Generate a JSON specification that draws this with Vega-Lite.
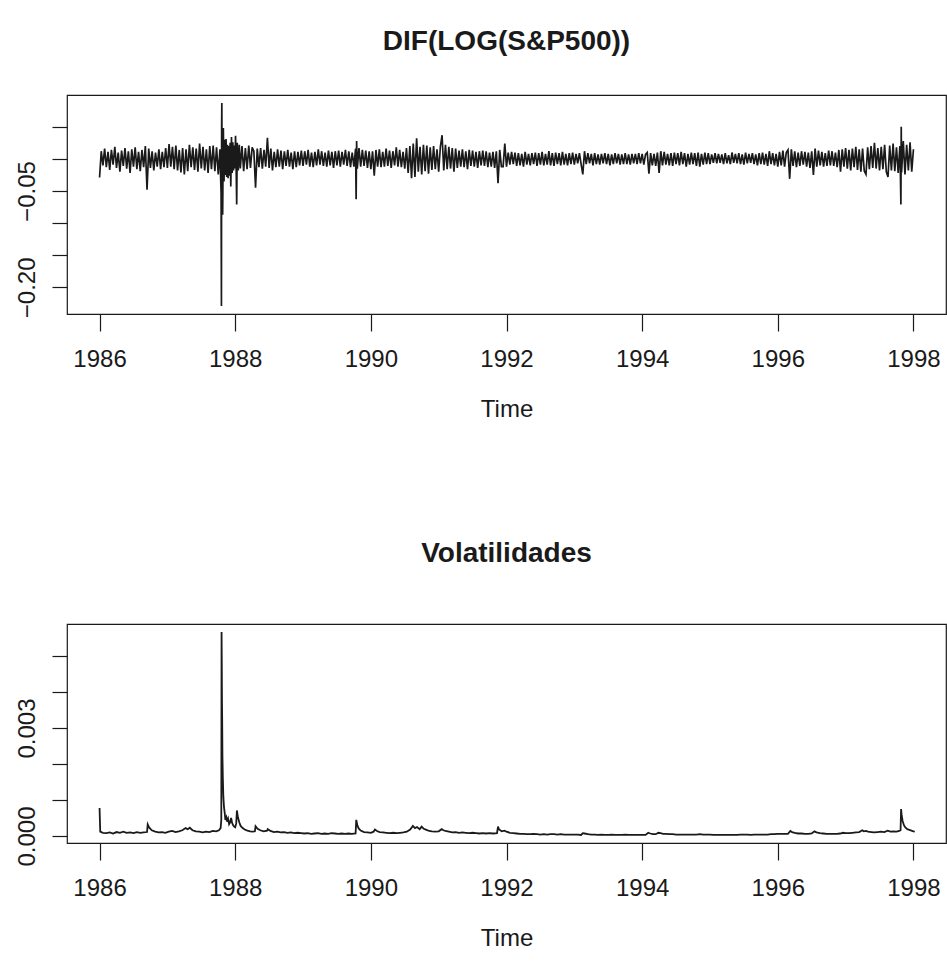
{
"$schema": "https://vega.github.io/schema/vega-lite/v6.json",
"autosize": {"type": "pad"},
"padding": {"left": 14, "top": 27, "right": 0, "bottom": 4},
"background": "white",
"config": {
 "font": "Liberation Sans",
 "view": {"stroke": "#1a1a1a", "strokeWidth": 1.2},
 "axis": {"grid": false, "domain": false, "tickColor": "#1a1a1a", "tickWidth": 1.2, "labelColor": "#1a1a1a", "labelFontSize": 24, "labelFont": "Liberation Sans", "titleFont": "Liberation Sans", "titleFontSize": 24, "titleFontWeight": "normal", "titleColor": "#1a1a1a", "labelOverlap": false, "labelFlush": false, "labelBound": false},
 "axisX": {"tickSize": 17, "labelPadding": 16, "labelBaseline": "top", "titleBaseline": "alphabetic", "titleY": 102},
 "axisY": {"tickSize": 15, "labelPadding": 18, "labelAngle": -90, "labelAlign": "center", "labelBaseline": "alphabetic"},
 "title": {"fontSize": 28, "fontWeight": "bold", "font": "Liberation Sans", "color": "#1a1a1a", "anchor": "middle", "frame": "group", "baseline": "alphabetic"}
},
"spacing": 310,
"bounds": "flush",
"datasets": {
"ret": [
{"t":1986.000,"r":-0.029},{"t":1986.025,"r":0.012},{"t":1986.050,"r":-0.010},{"t":1986.075,"r":0.016},{"t":1986.100,"r":-0.013},{"t":1986.125,"r":0.011},{"t":1986.150,"r":-0.017},{"t":1986.175,"r":0.014},{"t":1986.200,"r":-0.009},{"t":1986.225,"r":0.019},
{"t":1986.250,"r":-0.014},{"t":1986.275,"r":0.010},{"t":1986.300,"r":-0.020},{"t":1986.325,"r":0.013},{"t":1986.350,"r":-0.011},{"t":1986.375,"r":0.017},{"t":1986.400,"r":-0.015},{"t":1986.425,"r":0.012},{"t":1986.450,"r":-0.022},{"t":1986.475,"r":0.015},
{"t":1986.500,"r":-0.012},{"t":1986.525,"r":0.018},{"t":1986.550,"r":-0.016},{"t":1986.575,"r":0.011},{"t":1986.600,"r":-0.019},{"t":1986.625,"r":0.014},{"t":1986.650,"r":-0.013},{"t":1986.675,"r":0.020},{"t":1986.700,"r":-0.048},{"t":1986.725,"r":0.016},
{"t":1986.750,"r":-0.014},{"t":1986.775,"r":0.012},{"t":1986.800,"r":-0.018},{"t":1986.825,"r":0.010},{"t":1986.850,"r":-0.012},{"t":1986.875,"r":0.015},{"t":1986.900,"r":-0.016},{"t":1986.925,"r":0.011},{"t":1986.950,"r":-0.013},{"t":1986.975,"r":0.017},
{"t":1987.000,"r":-0.014},{"t":1987.025,"r":0.023},{"t":1987.050,"r":-0.012},{"t":1987.075,"r":0.019},{"t":1987.100,"r":-0.016},{"t":1987.125,"r":0.021},{"t":1987.150,"r":-0.018},{"t":1987.175,"r":0.014},{"t":1987.200,"r":-0.021},{"t":1987.225,"r":0.017},
{"t":1987.250,"r":-0.024},{"t":1987.275,"r":0.015},{"t":1987.300,"r":-0.019},{"t":1987.325,"r":0.022},{"t":1987.350,"r":-0.013},{"t":1987.375,"r":0.018},{"t":1987.400,"r":-0.017},{"t":1987.425,"r":0.016},{"t":1987.450,"r":-0.020},{"t":1987.475,"r":0.024},
{"t":1987.500,"r":-0.015},{"t":1987.525,"r":0.019},{"t":1987.550,"r":-0.018},{"t":1987.575,"r":0.015},{"t":1987.600,"r":-0.022},{"t":1987.625,"r":0.020},{"t":1987.650,"r":-0.016},{"t":1987.675,"r":0.021},{"t":1987.700,"r":-0.019},{"t":1987.725,"r":0.018},
{"t":1987.750,"r":-0.024},{"t":1987.775,"r":0.015},{"t":1987.785,"r":-0.028},{"t":1987.792,"r":-0.053},{"t":1987.797,"r":-0.229},{"t":1987.800,"r":0.052},{"t":1987.803,"r":0.087},{"t":1987.806,"r":-0.040},{"t":1987.810,"r":0.025},{"t":1987.815,"r":-0.087},
{"t":1987.825,"r":0.048},{"t":1987.835,"r":-0.035},{"t":1987.845,"r":0.030},{"t":1987.855,"r":-0.025},{"t":1987.865,"r":0.031},{"t":1987.875,"r":-0.028},{"t":1987.885,"r":0.022},{"t":1987.895,"r":-0.030},{"t":1987.905,"r":0.020},{"t":1987.915,"r":-0.026},
{"t":1987.925,"r":0.025},{"t":1987.935,"r":-0.043},{"t":1987.945,"r":0.034},{"t":1987.955,"r":-0.022},{"t":1987.965,"r":0.026},{"t":1987.975,"r":-0.018},{"t":1987.985,"r":0.021},{"t":1987.995,"r":-0.015},{"t":1988.005,"r":0.036},{"t":1988.015,"r":-0.020},
{"t":1988.022,"r":-0.071},{"t":1988.030,"r":0.025},{"t":1988.045,"r":-0.018},{"t":1988.060,"r":0.022},
{"t":1988.075,"r":-0.015},{"t":1988.100,"r":0.020},{"t":1988.125,"r":-0.019},{"t":1988.150,"r":0.017},{"t":1988.175,"r":-0.016},{"t":1988.200,"r":0.021},{"t":1988.225,"r":-0.014},{"t":1988.250,"r":0.018},{"t":1988.275,"r":0.012},{"t":1988.300,"r":-0.045},
{"t":1988.325,"r":0.016},{"t":1988.350,"r":-0.013},{"t":1988.375,"r":0.017},{"t":1988.400,"r":-0.015},{"t":1988.425,"r":0.014},{"t":1988.450,"r":-0.012},{"t":1988.475,"r":0.033},{"t":1988.500,"r":-0.014},{"t":1988.525,"r":0.016},{"t":1988.550,"r":-0.018},
{"t":1988.575,"r":0.011},{"t":1988.600,"r":-0.013},{"t":1988.625,"r":0.015},{"t":1988.650,"r":-0.012},{"t":1988.675,"r":0.013},{"t":1988.700,"r":-0.016},{"t":1988.725,"r":0.012},{"t":1988.750,"r":-0.011},{"t":1988.775,"r":0.014},{"t":1988.800,"r":-0.012},
{"t":1988.825,"r":0.010},{"t":1988.850,"r":-0.016},{"t":1988.875,"r":0.012},{"t":1988.900,"r":-0.013},{"t":1988.925,"r":0.011},{"t":1988.950,"r":-0.010},{"t":1988.975,"r":0.013},
{"t":1989.000,"r":-0.011},{"t":1989.025,"r":0.012},{"t":1989.050,"r":-0.009},{"t":1989.075,"r":0.014},{"t":1989.100,"r":-0.012},{"t":1989.125,"r":0.010},{"t":1989.150,"r":-0.013},{"t":1989.175,"r":0.011},{"t":1989.200,"r":-0.010},{"t":1989.225,"r":0.015},
{"t":1989.250,"r":-0.009},{"t":1989.275,"r":0.012},{"t":1989.300,"r":-0.011},{"t":1989.325,"r":0.010},{"t":1989.350,"r":-0.012},{"t":1989.375,"r":0.013},{"t":1989.400,"r":-0.010},{"t":1989.425,"r":0.011},{"t":1989.450,"r":-0.014},{"t":1989.475,"r":0.012},
{"t":1989.500,"r":-0.010},{"t":1989.525,"r":0.013},{"t":1989.550,"r":-0.012},{"t":1989.575,"r":0.011},{"t":1989.600,"r":-0.009},{"t":1989.625,"r":0.014},{"t":1989.650,"r":-0.011},{"t":1989.675,"r":0.012},{"t":1989.700,"r":-0.013},{"t":1989.725,"r":0.010},
{"t":1989.750,"r":-0.012},{"t":1989.775,"r":0.016},{"t":1989.783,"r":-0.063},{"t":1989.790,"r":0.028},{"t":1989.800,"r":-0.015},{"t":1989.825,"r":0.017},{"t":1989.850,"r":-0.012},{"t":1989.875,"r":0.014},{"t":1989.900,"r":-0.011},{"t":1989.925,"r":0.013},
{"t":1989.950,"r":-0.014},{"t":1989.975,"r":0.012},
{"t":1990.000,"r":-0.016},{"t":1990.025,"r":0.012},{"t":1990.050,"r":-0.026},{"t":1990.075,"r":0.014},{"t":1990.100,"r":-0.012},{"t":1990.125,"r":0.015},{"t":1990.150,"r":-0.013},{"t":1990.175,"r":0.011},{"t":1990.200,"r":-0.012},{"t":1990.225,"r":0.016},
{"t":1990.250,"r":-0.011},{"t":1990.275,"r":0.013},{"t":1990.300,"r":-0.014},{"t":1990.325,"r":0.012},{"t":1990.350,"r":-0.010},{"t":1990.375,"r":0.018},{"t":1990.400,"r":-0.012},{"t":1990.425,"r":0.014},{"t":1990.450,"r":-0.013},{"t":1990.475,"r":0.011},
{"t":1990.500,"r":-0.015},{"t":1990.525,"r":0.017},{"t":1990.550,"r":-0.022},{"t":1990.575,"r":0.020},{"t":1990.600,"r":-0.030},{"t":1990.625,"r":0.024},{"t":1990.650,"r":-0.028},{"t":1990.675,"r":0.032},{"t":1990.700,"r":-0.020},{"t":1990.725,"r":0.019},
{"t":1990.750,"r":-0.024},{"t":1990.775,"r":0.022},{"t":1990.800,"r":-0.019},{"t":1990.825,"r":0.021},{"t":1990.850,"r":-0.023},{"t":1990.875,"r":0.018},{"t":1990.900,"r":-0.017},{"t":1990.925,"r":0.020},{"t":1990.950,"r":-0.016},{"t":1990.975,"r":0.015},
{"t":1991.000,"r":-0.020},{"t":1991.025,"r":0.019},{"t":1991.050,"r":0.037},{"t":1991.075,"r":-0.018},{"t":1991.100,"r":0.022},{"t":1991.125,"r":-0.016},{"t":1991.150,"r":0.019},{"t":1991.175,"r":-0.015},{"t":1991.200,"r":0.017},{"t":1991.225,"r":-0.020},
{"t":1991.250,"r":0.016},{"t":1991.275,"r":-0.014},{"t":1991.300,"r":0.013},{"t":1991.325,"r":-0.012},{"t":1991.350,"r":0.015},{"t":1991.375,"r":-0.013},{"t":1991.400,"r":0.012},{"t":1991.425,"r":-0.016},{"t":1991.450,"r":0.014},{"t":1991.475,"r":-0.011},
{"t":1991.500,"r":0.013},{"t":1991.525,"r":-0.012},{"t":1991.550,"r":0.011},{"t":1991.575,"r":-0.014},{"t":1991.600,"r":0.012},{"t":1991.625,"r":-0.010},{"t":1991.650,"r":0.013},{"t":1991.675,"r":-0.011},{"t":1991.700,"r":0.012},{"t":1991.725,"r":-0.013},
{"t":1991.750,"r":0.010},{"t":1991.775,"r":-0.012},{"t":1991.800,"r":0.011},{"t":1991.825,"r":-0.014},{"t":1991.850,"r":0.012},{"t":1991.875,"r":-0.038},{"t":1991.900,"r":0.014},{"t":1991.925,"r":-0.012},{"t":1991.950,"r":-0.012},{"t":1991.975,"r":0.024},
{"t":1992.000,"r":-0.012},{"t":1992.025,"r":0.010},{"t":1992.050,"r":-0.009},{"t":1992.075,"r":0.011},{"t":1992.100,"r":-0.008},{"t":1992.125,"r":0.010},{"t":1992.150,"r":-0.011},{"t":1992.175,"r":0.009},{"t":1992.200,"r":-0.010},{"t":1992.225,"r":0.008},
{"t":1992.250,"r":-0.012},{"t":1992.275,"r":0.011},{"t":1992.300,"r":-0.009},{"t":1992.325,"r":0.008},{"t":1992.350,"r":-0.010},{"t":1992.375,"r":0.009},{"t":1992.400,"r":-0.008},{"t":1992.425,"r":0.010},{"t":1992.450,"r":-0.011},{"t":1992.475,"r":0.009},
{"t":1992.500,"r":-0.009},{"t":1992.525,"r":0.011},{"t":1992.550,"r":-0.010},{"t":1992.575,"r":0.008},{"t":1992.600,"r":-0.009},{"t":1992.625,"r":0.012},{"t":1992.650,"r":-0.010},{"t":1992.675,"r":0.009},{"t":1992.700,"r":-0.011},{"t":1992.725,"r":0.010},
{"t":1992.750,"r":-0.008},{"t":1992.775,"r":0.009},{"t":1992.800,"r":-0.010},{"t":1992.825,"r":0.011},{"t":1992.850,"r":-0.009},{"t":1992.875,"r":0.008},{"t":1992.900,"r":-0.010},{"t":1992.925,"r":0.009},{"t":1992.950,"r":-0.008},{"t":1992.975,"r":0.010},
{"t":1993.000,"r":-0.009},{"t":1993.025,"r":0.008},{"t":1993.050,"r":-0.007},{"t":1993.075,"r":0.009},{"t":1993.100,"r":-0.008},{"t":1993.125,"r":-0.024},{"t":1993.150,"r":0.012},{"t":1993.175,"r":-0.008},{"t":1993.200,"r":0.009},{"t":1993.225,"r":-0.007},
{"t":1993.250,"r":0.008},{"t":1993.275,"r":-0.010},{"t":1993.300,"r":0.009},{"t":1993.325,"r":-0.008},{"t":1993.350,"r":0.007},{"t":1993.375,"r":-0.009},{"t":1993.400,"r":0.008},{"t":1993.425,"r":-0.007},{"t":1993.450,"r":0.009},{"t":1993.475,"r":-0.008},
{"t":1993.500,"r":0.008},{"t":1993.525,"r":-0.010},{"t":1993.550,"r":0.007},{"t":1993.575,"r":-0.008},{"t":1993.600,"r":0.009},{"t":1993.625,"r":-0.007},{"t":1993.650,"r":0.008},{"t":1993.675,"r":-0.009},{"t":1993.700,"r":0.007},{"t":1993.725,"r":-0.008},
{"t":1993.750,"r":0.009},{"t":1993.775,"r":-0.008},{"t":1993.800,"r":0.007},{"t":1993.825,"r":-0.009},{"t":1993.850,"r":0.008},{"t":1993.875,"r":-0.007},{"t":1993.900,"r":0.008},{"t":1993.925,"r":-0.008},{"t":1993.950,"r":0.009},{"t":1993.975,"r":-0.007},
{"t":1994.000,"r":0.008},{"t":1994.025,"r":-0.009},{"t":1994.050,"r":0.007},{"t":1994.075,"r":0.010},{"t":1994.100,"r":-0.023},{"t":1994.125,"r":0.009},{"t":1994.150,"r":-0.010},{"t":1994.175,"r":0.008},{"t":1994.200,"r":-0.011},{"t":1994.225,"r":0.010},
{"t":1994.250,"r":-0.022},{"t":1994.275,"r":0.012},{"t":1994.300,"r":-0.010},{"t":1994.325,"r":0.011},{"t":1994.350,"r":-0.009},{"t":1994.375,"r":0.008},{"t":1994.400,"r":-0.010},{"t":1994.425,"r":0.009},{"t":1994.450,"r":-0.011},{"t":1994.475,"r":0.010},
{"t":1994.500,"r":-0.008},{"t":1994.525,"r":0.009},{"t":1994.550,"r":-0.010},{"t":1994.575,"r":0.011},{"t":1994.600,"r":-0.008},{"t":1994.625,"r":0.009},{"t":1994.650,"r":-0.012},{"t":1994.675,"r":0.008},{"t":1994.700,"r":-0.009},{"t":1994.725,"r":0.010},
{"t":1994.750,"r":-0.008},{"t":1994.775,"r":0.009},{"t":1994.800,"r":-0.011},{"t":1994.825,"r":0.010},{"t":1994.850,"r":-0.012},{"t":1994.875,"r":0.008},{"t":1994.900,"r":-0.009},{"t":1994.925,"r":0.010},{"t":1994.950,"r":-0.008},{"t":1994.975,"r":0.009},
{"t":1995.000,"r":-0.008},{"t":1995.025,"r":0.007},{"t":1995.050,"r":-0.006},{"t":1995.075,"r":0.009},{"t":1995.100,"r":-0.007},{"t":1995.125,"r":0.008},{"t":1995.150,"r":-0.006},{"t":1995.175,"r":0.007},{"t":1995.200,"r":-0.008},{"t":1995.225,"r":0.009},
{"t":1995.250,"r":-0.007},{"t":1995.275,"r":0.006},{"t":1995.300,"r":-0.008},{"t":1995.325,"r":0.010},{"t":1995.350,"r":-0.006},{"t":1995.375,"r":0.008},{"t":1995.400,"r":-0.007},{"t":1995.425,"r":0.009},{"t":1995.450,"r":-0.008},{"t":1995.475,"r":0.007},
{"t":1995.500,"r":-0.009},{"t":1995.525,"r":0.010},{"t":1995.550,"r":-0.007},{"t":1995.575,"r":0.008},{"t":1995.600,"r":-0.006},{"t":1995.625,"r":0.009},{"t":1995.650,"r":-0.008},{"t":1995.675,"r":0.007},{"t":1995.700,"r":-0.010},{"t":1995.725,"r":0.009},
{"t":1995.750,"r":-0.008},{"t":1995.775,"r":0.010},{"t":1995.800,"r":-0.009},{"t":1995.825,"r":0.008},{"t":1995.850,"r":-0.011},{"t":1995.875,"r":0.012},{"t":1995.900,"r":-0.008},{"t":1995.925,"r":0.009},{"t":1995.950,"r":-0.010},{"t":1995.975,"r":0.008},
{"t":1996.000,"r":-0.012},{"t":1996.025,"r":0.011},{"t":1996.050,"r":-0.010},{"t":1996.075,"r":0.013},{"t":1996.100,"r":-0.012},{"t":1996.125,"r":0.010},{"t":1996.150,"r":0.014},{"t":1996.175,"r":-0.031},{"t":1996.200,"r":0.015},{"t":1996.225,"r":-0.011},
{"t":1996.250,"r":0.012},{"t":1996.275,"r":-0.013},{"t":1996.300,"r":0.010},{"t":1996.325,"r":-0.011},{"t":1996.350,"r":0.012},{"t":1996.375,"r":-0.009},{"t":1996.400,"r":0.011},{"t":1996.425,"r":-0.012},{"t":1996.450,"r":0.010},{"t":1996.475,"r":-0.014},
{"t":1996.500,"r":0.012},{"t":1996.525,"r":-0.025},{"t":1996.550,"r":0.016},{"t":1996.575,"r":-0.012},{"t":1996.600,"r":0.013},{"t":1996.625,"r":-0.010},{"t":1996.650,"r":0.011},{"t":1996.675,"r":-0.012},{"t":1996.700,"r":0.009},{"t":1996.725,"r":-0.011},
{"t":1996.750,"r":0.013},{"t":1996.775,"r":-0.010},{"t":1996.800,"r":0.012},{"t":1996.825,"r":-0.011},{"t":1996.850,"r":0.010},{"t":1996.875,"r":-0.013},{"t":1996.900,"r":0.014},{"t":1996.925,"r":-0.020},{"t":1996.950,"r":0.015},{"t":1996.975,"r":-0.012},
{"t":1997.000,"r":0.017},{"t":1997.025,"r":-0.015},{"t":1997.050,"r":0.014},{"t":1997.075,"r":-0.018},{"t":1997.100,"r":0.016},{"t":1997.125,"r":-0.013},{"t":1997.150,"r":0.019},{"t":1997.175,"r":-0.017},{"t":1997.200,"r":0.015},{"t":1997.225,"r":-0.020},
{"t":1997.250,"r":0.016},{"t":1997.275,"r":-0.019},{"t":1997.300,"r":-0.024},{"t":1997.325,"r":0.018},{"t":1997.350,"r":-0.016},{"t":1997.375,"r":0.020},{"t":1997.400,"r":-0.014},{"t":1997.425,"r":0.025},{"t":1997.450,"r":-0.015},{"t":1997.475,"r":0.017},
{"t":1997.500,"r":-0.018},{"t":1997.525,"r":0.019},{"t":1997.550,"r":-0.016},{"t":1997.575,"r":0.022},{"t":1997.600,"r":-0.020},{"t":1997.625,"r":-0.028},{"t":1997.650,"r":0.021},{"t":1997.675,"r":-0.018},{"t":1997.700,"r":0.024},{"t":1997.725,"r":-0.019},
{"t":1997.750,"r":0.018},{"t":1997.775,"r":-0.022},{"t":1997.800,"r":0.020},{"t":1997.807,"r":-0.019},{"t":1997.815,"r":-0.071},{"t":1997.820,"r":0.050},{"t":1997.825,"r":-0.021},{"t":1997.850,"r":0.028},{"t":1997.875,"r":-0.024},{"t":1997.900,"r":0.022},
{"t":1997.925,"r":-0.018},{"t":1997.950,"r":0.026},{"t":1997.975,"r":-0.020},{"t":1998.000,"r":0.015}
],
"vol": [
{"t":1986.000,"h":0.00078},{"t":1986.010,"h":0.00012},{"t":1986.05,"h":0.00009},{"t":1986.10,"h":0.00008},{"t":1986.15,"h":0.00010},{"t":1986.20,"h":0.00007},{"t":1986.25,"h":0.00011},{"t":1986.30,"h":0.00009},{"t":1986.35,"h":0.00012},{"t":1986.40,"h":0.00009},
{"t":1986.45,"h":0.00010},{"t":1986.50,"h":0.00008},{"t":1986.55,"h":0.00011},{"t":1986.60,"h":0.00009},{"t":1986.65,"h":0.00010},{"t":1986.70,"h":0.00011},{"t":1986.71,"h":0.00032},{"t":1986.73,"h":0.00024},{"t":1986.77,"h":0.00016},{"t":1986.82,"h":0.00012},
{"t":1986.87,"h":0.00010},{"t":1986.92,"h":0.00011},{"t":1986.97,"h":0.00009},{"t":1987.02,"h":0.00012},{"t":1987.07,"h":0.00014},{"t":1987.12,"h":0.00011},{"t":1987.17,"h":0.00013},{"t":1987.22,"h":0.00016},{"t":1987.27,"h":0.00022},{"t":1987.30,"h":0.00019},
{"t":1987.33,"h":0.00023},{"t":1987.37,"h":0.00016},{"t":1987.42,"h":0.00013},{"t":1987.47,"h":0.00012},{"t":1987.52,"h":0.00010},{"t":1987.57,"h":0.00012},{"t":1987.62,"h":0.00011},{"t":1987.67,"h":0.00014},{"t":1987.72,"h":0.00013},{"t":1987.76,"h":0.00016},
{"t":1987.785,"h":0.00022},{"t":1987.795,"h":0.00045},{"t":1987.799,"h":0.00567},{"t":1987.802,"h":0.0048},{"t":1987.805,"h":0.00374},{"t":1987.808,"h":0.0032},{"t":1987.812,"h":0.0022},{"t":1987.818,"h":0.0016},{"t":1987.825,"h":0.0011},{"t":1987.835,"h":0.0008},
{"t":1987.845,"h":0.00065},{"t":1987.855,"h":0.00045},{"t":1987.87,"h":0.00052},{"t":1987.88,"h":0.00040},{"t":1987.895,"h":0.00048},{"t":1987.91,"h":0.00033},{"t":1987.925,"h":0.00038},{"t":1987.94,"h":0.00050},{"t":1987.955,"h":0.00036},{"t":1987.97,"h":0.00030},
{"t":1987.985,"h":0.00026},{"t":1988.00,"h":0.00024},{"t":1988.015,"h":0.00035},{"t":1988.025,"h":0.00071},{"t":1988.04,"h":0.00052},{"t":1988.06,"h":0.00038},{"t":1988.08,"h":0.00028},{"t":1988.11,"h":0.00022},{"t":1988.14,"h":0.00018},{"t":1988.18,"h":0.00015},
{"t":1988.22,"h":0.00013},{"t":1988.26,"h":0.00012},{"t":1988.29,"h":0.00013},{"t":1988.30,"h":0.00027},{"t":1988.33,"h":0.00020},{"t":1988.37,"h":0.00016},{"t":1988.42,"h":0.00013},{"t":1988.47,"h":0.00015},{"t":1988.48,"h":0.00019},{"t":1988.52,"h":0.00014},
{"t":1988.57,"h":0.00011},{"t":1988.62,"h":0.00012},{"t":1988.67,"h":0.00010},{"t":1988.72,"h":0.00011},{"t":1988.77,"h":0.00009},{"t":1988.82,"h":0.00010},{"t":1988.87,"h":0.00008},{"t":1988.92,"h":0.00009},{"t":1988.97,"h":0.00008},{"t":1989.02,"h":0.00007},
{"t":1989.07,"h":0.00008},{"t":1989.12,"h":0.00006},{"t":1989.17,"h":0.00007},{"t":1989.22,"h":0.00008},{"t":1989.27,"h":0.00006},{"t":1989.32,"h":0.00007},{"t":1989.37,"h":0.00006},{"t":1989.42,"h":0.00008},{"t":1989.47,"h":0.00007},{"t":1989.52,"h":0.00006},
{"t":1989.57,"h":0.00007},{"t":1989.62,"h":0.00006},{"t":1989.67,"h":0.00007},{"t":1989.72,"h":0.00006},{"t":1989.775,"h":0.00007},{"t":1989.785,"h":0.00045},{"t":1989.80,"h":0.00030},{"t":1989.82,"h":0.00021},{"t":1989.85,"h":0.00015},{"t":1989.90,"h":0.00011},
{"t":1989.95,"h":0.00010},{"t":1990.00,"h":0.00009},{"t":1990.04,"h":0.00012},{"t":1990.06,"h":0.00018},{"t":1990.09,"h":0.00014},{"t":1990.13,"h":0.00011},{"t":1990.18,"h":0.00010},{"t":1990.23,"h":0.00009},{"t":1990.28,"h":0.00008},{"t":1990.33,"h":0.00009},
{"t":1990.38,"h":0.00008},{"t":1990.43,"h":0.00009},{"t":1990.48,"h":0.00010},{"t":1990.53,"h":0.00012},{"t":1990.58,"h":0.00018},{"t":1990.62,"h":0.00028},{"t":1990.65,"h":0.00022},{"t":1990.68,"h":0.00025},{"t":1990.72,"h":0.00019},{"t":1990.75,"h":0.00026},
{"t":1990.78,"h":0.00020},{"t":1990.82,"h":0.00017},{"t":1990.86,"h":0.00014},{"t":1990.90,"h":0.00013},{"t":1990.95,"h":0.00012},{"t":1991.00,"h":0.00013},{"t":1991.045,"h":0.00019},{"t":1991.07,"h":0.00016},{"t":1991.10,"h":0.00014},{"t":1991.15,"h":0.00012},
{"t":1991.20,"h":0.00010},{"t":1991.25,"h":0.00011},{"t":1991.30,"h":0.00009},{"t":1991.35,"h":0.00010},{"t":1991.40,"h":0.00009},{"t":1991.45,"h":0.00008},{"t":1991.50,"h":0.00009},{"t":1991.55,"h":0.00008},{"t":1991.60,"h":0.00007},{"t":1991.65,"h":0.00008},
{"t":1991.70,"h":0.00007},{"t":1991.75,"h":0.00008},{"t":1991.80,"h":0.00007},{"t":1991.86,"h":0.00008},{"t":1991.875,"h":0.00026},{"t":1991.89,"h":0.00018},{"t":1991.93,"h":0.00013},{"t":1991.97,"h":0.00015},{"t":1992.00,"h":0.00012},{"t":1992.05,"h":0.00009},
{"t":1992.10,"h":0.00008},{"t":1992.15,"h":0.00007},{"t":1992.20,"h":0.00006},{"t":1992.25,"h":0.00006},{"t":1992.30,"h":0.00005},{"t":1992.35,"h":0.00005},{"t":1992.40,"h":0.00006},{"t":1992.45,"h":0.00005},{"t":1992.50,"h":0.00004},{"t":1992.55,"h":0.00005},
{"t":1992.60,"h":0.00004},{"t":1992.65,"h":0.00005},{"t":1992.70,"h":0.00005},{"t":1992.75,"h":0.00004},{"t":1992.80,"h":0.00005},{"t":1992.85,"h":0.00004},{"t":1992.90,"h":0.00004},{"t":1992.95,"h":0.00004},{"t":1993.00,"h":0.00004},{"t":1993.05,"h":0.00004},
{"t":1993.10,"h":0.00003},{"t":1993.125,"h":0.00008},{"t":1993.15,"h":0.00007},{"t":1993.20,"h":0.00005},{"t":1993.25,"h":0.00004},{"t":1993.30,"h":0.00004},{"t":1993.35,"h":0.00003},{"t":1993.40,"h":0.00004},{"t":1993.45,"h":0.00003},{"t":1993.50,"h":0.00003},
{"t":1993.55,"h":0.00004},{"t":1993.60,"h":0.00003},{"t":1993.65,"h":0.00003},{"t":1993.70,"h":0.00003},{"t":1993.75,"h":0.00004},{"t":1993.80,"h":0.00003},{"t":1993.85,"h":0.00003},{"t":1993.90,"h":0.00003},{"t":1993.95,"h":0.00003},{"t":1994.00,"h":0.00003},
{"t":1994.05,"h":0.00003},{"t":1994.09,"h":0.00009},{"t":1994.12,"h":0.00007},{"t":1994.16,"h":0.00005},{"t":1994.20,"h":0.00005},{"t":1994.24,"h":0.00009},{"t":1994.27,"h":0.00008},{"t":1994.31,"h":0.00006},{"t":1994.35,"h":0.00006},{"t":1994.40,"h":0.00005},
{"t":1994.45,"h":0.00005},{"t":1994.50,"h":0.00004},{"t":1994.55,"h":0.00004},{"t":1994.60,"h":0.00004},{"t":1994.65,"h":0.00004},{"t":1994.70,"h":0.00004},{"t":1994.75,"h":0.00004},{"t":1994.80,"h":0.00004},{"t":1994.85,"h":0.00005},{"t":1994.90,"h":0.00004},
{"t":1994.95,"h":0.00004},{"t":1995.00,"h":0.00004},{"t":1995.05,"h":0.00003},{"t":1995.10,"h":0.00003},{"t":1995.15,"h":0.00003},{"t":1995.20,"h":0.00003},{"t":1995.25,"h":0.00003},{"t":1995.30,"h":0.00003},{"t":1995.35,"h":0.00003},{"t":1995.40,"h":0.00003},
{"t":1995.45,"h":0.00004},{"t":1995.50,"h":0.00004},{"t":1995.55,"h":0.00004},{"t":1995.60,"h":0.00003},{"t":1995.65,"h":0.00004},{"t":1995.70,"h":0.00004},{"t":1995.75,"h":0.00004},{"t":1995.80,"h":0.00004},{"t":1995.85,"h":0.00004},{"t":1995.90,"h":0.00005},
{"t":1995.95,"h":0.00005},{"t":1996.00,"h":0.00006},{"t":1996.05,"h":0.00006},{"t":1996.10,"h":0.00006},{"t":1996.15,"h":0.00006},{"t":1996.185,"h":0.00014},{"t":1996.21,"h":0.00011},{"t":1996.25,"h":0.00009},{"t":1996.30,"h":0.00007},{"t":1996.35,"h":0.00007},
{"t":1996.40,"h":0.00006},{"t":1996.45,"h":0.00006},{"t":1996.50,"h":0.00007},{"t":1996.54,"h":0.00013},{"t":1996.57,"h":0.00010},{"t":1996.62,"h":0.00008},{"t":1996.67,"h":0.00007},{"t":1996.72,"h":0.00006},{"t":1996.77,"h":0.00006},{"t":1996.82,"h":0.00006},
{"t":1996.87,"h":0.00006},{"t":1996.92,"h":0.00007},{"t":1996.96,"h":0.00009},{"t":1997.00,"h":0.00008},{"t":1997.05,"h":0.00008},{"t":1997.10,"h":0.00009},{"t":1997.15,"h":0.00010},{"t":1997.20,"h":0.00011},{"t":1997.245,"h":0.00016},{"t":1997.27,"h":0.00013},
{"t":1997.30,"h":0.00014},{"t":1997.33,"h":0.00012},{"t":1997.38,"h":0.00011},{"t":1997.42,"h":0.00010},{"t":1997.47,"h":0.00011},{"t":1997.52,"h":0.00012},{"t":1997.57,"h":0.00011},{"t":1997.62,"h":0.00015},{"t":1997.66,"h":0.00012},{"t":1997.70,"h":0.00013},
{"t":1997.75,"h":0.00012},{"t":1997.79,"h":0.00014},{"t":1997.81,"h":0.00016},{"t":1997.818,"h":0.00075},{"t":1997.825,"h":0.00060},{"t":1997.84,"h":0.00042},{"t":1997.86,"h":0.00030},{"t":1997.88,"h":0.00024},{"t":1997.91,"h":0.00019},{"t":1997.94,"h":0.00017},
{"t":1997.97,"h":0.00015},{"t":1998.00,"h":0.00013},{"t":1998.02,"h":0.00012}
]
},
"vconcat": [
{
 "width": 879, "height": 219,
 "title": {"text": "DIF(LOG(S&P500))", "offset": 39},
 "data": {"name": "ret"},
 "mark": {"type": "line", "color": "#1a1a1a", "strokeWidth": 1.7, "clip": true},
 "encoding": {
  "x": {"field": "t", "type": "quantitative", "scale": {"domain": [1985.52, 1998.48], "nice": false, "zero": false},
        "axis": {"values": [1986, 1988, 1990, 1992, 1994, 1996, 1998], "format": "d", "title": "Time"}},
  "y": {"field": "r", "type": "quantitative", "scale": {"domain": [-0.2416, 0.0996], "nice": false, "zero": false},
        "axis": {"values": [-0.2, -0.15, -0.1, -0.05, 0, 0.05], "title": null,
                 "labelExpr": "abs(datum.value + 0.2) < 1e-9 ? '\u22120.20' : (abs(datum.value + 0.05) < 1e-9 ? '\u22120.05' : '')"}}
 }
},
{
 "width": 879, "height": 219,
 "title": {"text": "Volatilidades", "offset": 56},
 "data": {"name": "vol"},
 "mark": {"type": "line", "color": "#1a1a1a", "strokeWidth": 1.8, "clip": true},
 "encoding": {
  "x": {"field": "t", "type": "quantitative", "scale": {"domain": [1985.52, 1998.48], "nice": false, "zero": false},
        "axis": {"values": [1986, 1988, 1990, 1992, 1994, 1996, 1998], "format": "d", "title": "Time"}},
  "y": {"field": "h", "type": "quantitative", "scale": {"domain": [-0.000194, 0.005889], "nice": false, "zero": false},
        "axis": {"values": [0, 0.001, 0.002, 0.003, 0.004, 0.005], "title": null,
                 "labelExpr": "abs(datum.value) < 1e-12 ? '0.000' : (abs(datum.value - 0.003) < 1e-9 ? '0.003' : '')"}}
 }
}
]
}
